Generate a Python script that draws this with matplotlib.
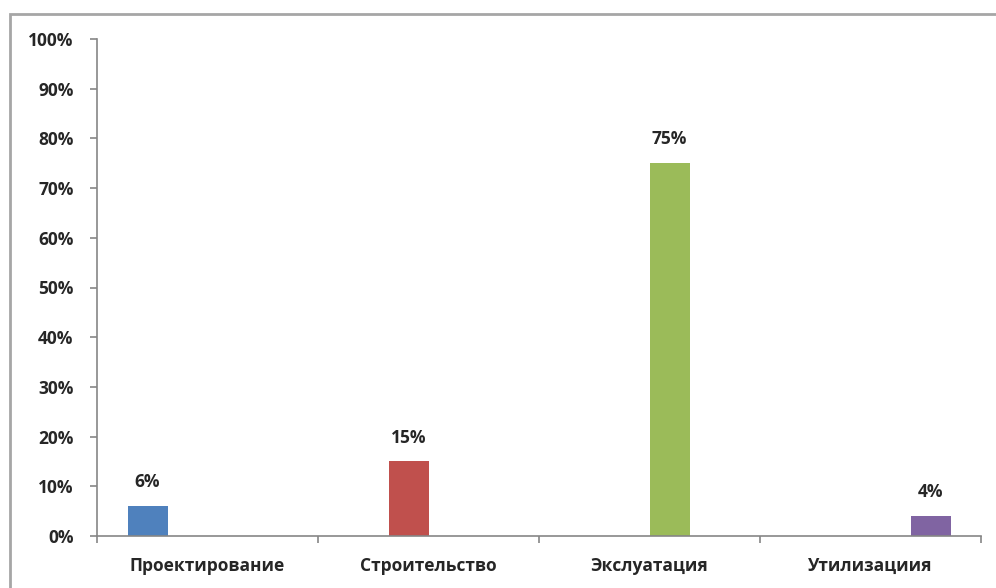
import numpy as np
import matplotlib
matplotlib.use('Agg')
import matplotlib.pyplot as plt
from matplotlib.patches import Rectangle
from matplotlib.ticker import FixedLocator, NullFormatter

categories = ['Проектирование', 'Строительство', 'Экслуатация', 'Утилизациия']
values = [6, 15, 75, 4]
value_labels = ['6%', '15%', '75%', '4%']
colors = ['#4f81bd', '#c0504d', '#9bbb59', '#8064a2']
y_ticks = list(range(0, 101, 10))

plt.rcParams['font.family'] = ['Open Sans', 'DejaVu Sans']

fig = plt.figure(figsize=(9.96, 5.88), dpi=100)
ax = fig.add_axes([97 / 996, 52 / 588, (981 - 97) / 996, (536 - 39) / 588])

# outer chart border (cut off on the right and bottom in the original)
fig.patches.append(Rectangle((10 / 996, -0.1), 1.2, (588 - 14) / 588 + 0.1,
                             transform=fig.transFigure, fill=False,
                             edgecolor='#a6a6a6', linewidth=2))

# four series in clusters, each one non-zero in its own category
width = 40 / 221
for i, (v, c, lab) in enumerate(zip(values, colors, value_labels)):
    x = i + (i - 1.5) * width
    ax.bar(x, v, width=width, color=c, edgecolor='none')
    ax.text(x, v + 3.0, lab, ha='center', va='bottom', fontsize=12.5,
            fontweight='bold', color='#262626')

ax.set_xlim(-0.5, 3.5)
ax.set_ylim(0, 100)
ax.set_yticks(y_ticks)
ax.set_yticklabels([f'{t}%' for t in y_ticks])

ax.xaxis.set_major_locator(FixedLocator(np.arange(-0.5, 4, 1)))
ax.xaxis.set_major_formatter(NullFormatter())
ax.xaxis.set_minor_locator(FixedLocator(range(len(categories))))
ax.set_xticklabels(categories, minor=True)

for s in ['top', 'right']:
    ax.spines[s].set_visible(False)
for s in ['left', 'bottom']:
    ax.spines[s].set_color('#868686')
    ax.spines[s].set_linewidth(1.2)

ax.tick_params(axis='y', length=5, width=1.2, color='#868686', pad=12,
               labelsize=12.5, labelcolor='#262626')
ax.tick_params(axis='x', which='major', length=5, width=1.2, color='#868686')
ax.tick_params(axis='x', which='minor', length=0, pad=15, labelsize=12.5,
               labelcolor='#262626')
for t in ax.get_yticklabels() + ax.get_xticklabels(minor=True):
    t.set_fontweight('bold')

fig.savefig('out.png', dpi=100)
